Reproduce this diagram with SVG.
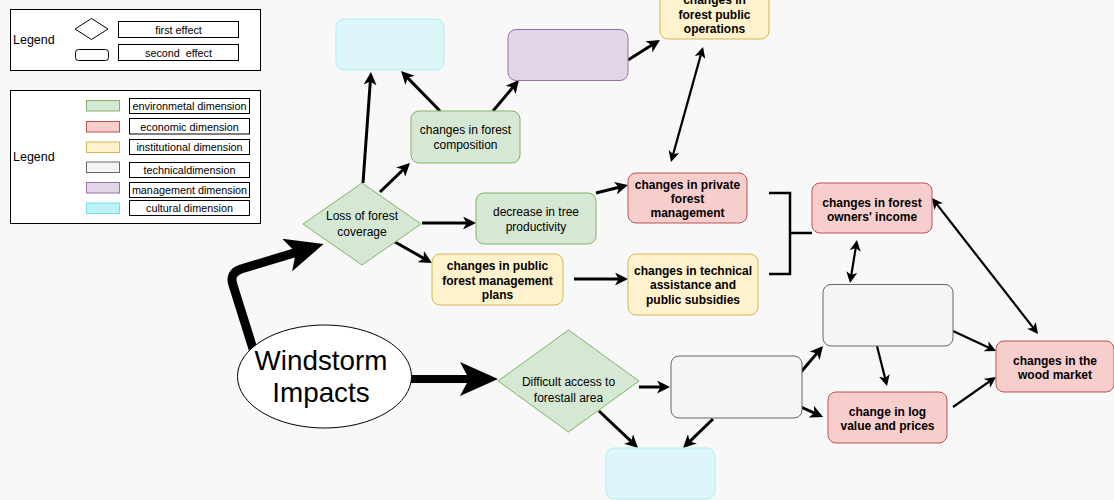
<svg xmlns="http://www.w3.org/2000/svg" width="1114" height="500" viewBox="0 0 1114 500">
<style>
text{font-family:"Liberation Sans",Arial,Helvetica,sans-serif;fill:#000;text-anchor:middle}
.n{font-size:12px}
.b{font-size:12px;font-weight:bold}
.lg{font-size:10.8px;white-space:pre}
.lgt{font-size:12.5px;text-anchor:start}
.env{fill:#d5e8d4;stroke:#82b366}
.eco{fill:#f8cecc;stroke:#b85450}
.ins{fill:#fff2cc;stroke:#d6b656}
.tec{fill:#f5f5f5;stroke:#666666}
.man{fill:#e1d5e7;stroke:#9673a6}
.cul{fill:#ddf6fa;stroke:#b3eef5}
.culL{fill:#bdf2f9;stroke:#6ee0ec}
.leg{fill:#fff;stroke:#000;stroke-width:1}
.c3{fill:none;stroke:#000;stroke-width:3;marker-end:url(#a)}
.c2{fill:none;stroke:#000;stroke-width:2.2;marker-end:url(#b)}
.d2{fill:none;stroke:#000;stroke-width:2.2;marker-end:url(#b);marker-start:url(#b)}
.thick{fill:none;stroke:#000;stroke-linejoin:round;marker-end:url(#t)}
</style>
<defs>
<marker id="a" viewBox="0 0 13 13" markerWidth="13" markerHeight="13" markerUnits="userSpaceOnUse" refX="9" refY="6.5" orient="auto-start-reverse"><path d="M0,0 L13,6.5 L0,13 L3.5,6.5 Z" fill="#000"/></marker>
<marker id="b" viewBox="0 0 11 11" markerWidth="11" markerHeight="11" markerUnits="userSpaceOnUse" refX="8" refY="5.5" orient="auto-start-reverse"><path d="M0,0 L11,5.5 L0,11 L3,5.5 Z" fill="#000"/></marker>
<marker id="t" viewBox="0 0 38 34" markerWidth="38" markerHeight="34" markerUnits="userSpaceOnUse" refX="28" refY="17" orient="auto"><path d="M0,0 L38,17 L0,34 L9,17 Z" fill="#000"/></marker>
</defs>
<rect x="0" y="0" width="1114" height="500" fill="#f8f8f8"/>

<g id="legend1">
<rect class="leg" x="10.5" y="9.5" width="250" height="61"/>
<text class="lgt" x="13" y="44">Legend</text>
<polygon points="75,29 91.5,18.5 108,29 91.5,39.5" fill="#fff" stroke="#000" stroke-width="1"/>
<rect x="75.5" y="49.5" width="33" height="11" rx="3" fill="#fff" stroke="#000" stroke-width="1"/>
<rect class="leg" x="118.5" y="21.5" width="120" height="16"/>
<text class="lg" x="178.5" y="33.5">first effect</text>
<rect class="leg" x="118.5" y="44.5" width="120" height="16"/>
<text class="lg" x="178.5" y="56.5">second  effect</text>
</g>

<g id="legend2">
<rect class="leg" x="10.5" y="90.5" width="250" height="133"/>
<text class="lgt" x="13" y="161">Legend</text>
<rect class="env" x="86.5" y="100.5" width="33" height="10.5"/>
<rect class="eco" x="86.5" y="121.5" width="33" height="10.5"/>
<rect class="ins" x="86.5" y="142" width="33" height="10.5"/>
<rect class="tec" x="86.5" y="162" width="33" height="10.5"/>
<rect class="man" x="86.5" y="182.5" width="33" height="10.5"/>
<rect class="culL" x="86.5" y="203" width="33" height="10.5"/>
<rect class="leg" x="129.5" y="98.5" width="120" height="15"/>
<text class="lg" x="189.5" y="110">environmetal dimension</text>
<rect class="leg" x="129.5" y="118.5" width="120" height="15.5"/>
<text class="lg" x="189.5" y="130.5">economic dimension</text>
<rect class="leg" x="129.5" y="139.5" width="120" height="15"/>
<text class="lg" x="189.5" y="151">institutional dimension</text>
<rect class="leg" x="129.5" y="162.5" width="120" height="15"/>
<text class="lg" x="189.5" y="174">technicaldimension</text>
<rect class="leg" x="129.5" y="182.5" width="120" height="15"/>
<text class="lg" x="189.5" y="194">management dimension</text>
<rect class="leg" x="129.5" y="200.5" width="120" height="15"/>
<text class="lg" x="189.5" y="212">cultural dimension</text>
</g>

<g id="connectors">
<path class="thick" stroke-width="9" d="M254,352 L233,285 Q229,273 241,269 L314,247"/>
<line class="thick" stroke-width="8" x1="405" y1="379" x2="488" y2="379"/>
<line class="c3" x1="363" y1="183" x2="370.7" y2="76"/>
<line class="c3" x1="440" y1="111" x2="403.8" y2="73.9"/>
<line class="c3" x1="493" y1="111" x2="516.4" y2="83.1"/>
<line class="c3" x1="628" y1="60" x2="656.6" y2="42.1"/>
<line class="d2" x1="702.2" y1="49.9" x2="671.8" y2="159.1"/>
<line class="c3" x1="380" y1="192" x2="407.1" y2="165.8"/>
<line class="c3" x1="422" y1="223" x2="472" y2="223"/>
<line class="c3" x1="395" y1="242" x2="428.5" y2="261"/>
<line class="c3" x1="596" y1="193" x2="624.1" y2="186"/>
<line class="c3" x1="574" y1="279" x2="624" y2="279"/>
<polyline points="769,193 790,193 790,274 769,274" fill="none" stroke="#000" stroke-width="2.5"/>
<line x1="790" y1="233" x2="812" y2="233" stroke="#000" stroke-width="2.5"/>
<line class="d2" x1="856.5" y1="243" x2="850.5" y2="280"/>
<line class="d2" x1="933.8" y1="200.4" x2="1036.2" y2="331.6"/>
<line class="c2" x1="953" y1="331" x2="993.3" y2="349.7"/>
<line class="c2" x1="877" y1="346" x2="886.3" y2="383.1"/>
<line class="c2" x1="953" y1="407" x2="993.5" y2="378.7"/>
<line class="c3" x1="801" y1="372" x2="820.4" y2="349.1"/>
<line class="c3" x1="801" y1="407" x2="819.4" y2="415.3"/>
<line class="c3" x1="639" y1="387" x2="666" y2="387"/>
<line class="c3" x1="599" y1="411" x2="635.1" y2="445.2"/>
<line class="c3" x1="713" y1="419" x2="685.9" y2="445.2"/>
</g>

<g id="cultural-top"><rect class="cul" x="336" y="19" width="108" height="51" rx="8"/></g>
<g id="management"><rect class="man" x="508" y="29.5" width="120" height="51" rx="8"/></g>
<g id="forest-public-operations">
<rect class="ins" x="660" y="-12" width="109" height="51" rx="8"/>
<text class="b" x="714.5" y="4">changes in</text>
<text class="b" x="714.5" y="18.5">forest public</text>
<text class="b" x="714.5" y="33">operations</text>
</g>
<g id="forest-composition">
<rect class="env" x="411" y="111" width="109" height="52" rx="8"/>
<text class="n" x="465.5" y="134">changes in forest</text>
<text class="n" x="465.5" y="148.5">composition</text>
</g>
<g id="loss-forest-coverage">
<polygon class="env" points="303,224 362,183 421,224 362,265"/>
<text class="n" x="362" y="220">Loss of forest</text>
<text class="n" x="362" y="235.5">coverage</text>
</g>
<g id="tree-productivity">
<rect class="env" x="476" y="193" width="120" height="51" rx="8"/>
<text class="n" x="536" y="216">decrease in tree</text>
<text class="n" x="536" y="230.5">productivity</text>
</g>
<g id="private-management">
<rect class="eco" x="628" y="173" width="119" height="50" rx="8"/>
<text class="b" x="687.5" y="188.5">changes in private</text>
<text class="b" x="687.5" y="202.5">forest</text>
<text class="b" x="687.5" y="217">management</text>
</g>
<g id="public-plans">
<rect class="ins" x="432" y="254" width="131" height="51" rx="8"/>
<text class="b" x="497.5" y="270">changes in public</text>
<text class="b" x="497.5" y="284.5">forest management</text>
<text class="b" x="497.5" y="298.5">plans</text>
</g>
<g id="technical-assistance">
<rect class="ins" x="628" y="254" width="130" height="61" rx="8"/>
<text class="b" x="693" y="274.5">changes in technical</text>
<text class="b" x="693" y="289">assistance and</text>
<text class="b" x="693" y="303.5">public subsidies</text>
</g>
<g id="owners-income">
<rect class="eco" x="812" y="183" width="120" height="50" rx="8"/>
<text class="b" x="872" y="206.5">changes in forest</text>
<text class="b" x="872" y="220.5">owners' income</text>
</g>
<g id="technical-mid"><rect class="tec" x="823" y="284.5" width="130" height="61.5" rx="8"/></g>
<g id="wood-market">
<rect class="eco" x="996" y="341" width="118" height="51" rx="8"/>
<text class="b" x="1055" y="364.5">changes in the</text>
<text class="b" x="1055" y="378.5">wood market</text>
</g>
<g id="log-value">
<rect class="eco" x="828" y="392" width="119" height="51" rx="8"/>
<text class="b" x="887.5" y="415.5">change in log</text>
<text class="b" x="887.5" y="429.5">value and prices</text>
</g>
<g id="technical-low"><rect class="tec" x="671" y="356" width="131" height="62" rx="8"/></g>
<g id="difficult-access">
<polygon class="env" points="498,381 568.5,330 639,381 568.5,432"/>
<text class="n" x="568.5" y="386">Difficult access to</text>
<text class="n" x="568.5" y="401.5">forestall area</text>
</g>
<g id="cultural-bottom"><rect class="cul" x="606" y="448" width="109" height="51" rx="8"/></g>
<g id="windstorm">
<ellipse cx="324.5" cy="376.5" rx="87" ry="51.5" fill="#fff" stroke="#000" stroke-width="1"/>
<text x="321" y="370" style="font-size:27.8px">Windstorm</text>
<text x="321" y="401.5" style="font-size:27.8px">Impacts</text>
</g>
</svg>
